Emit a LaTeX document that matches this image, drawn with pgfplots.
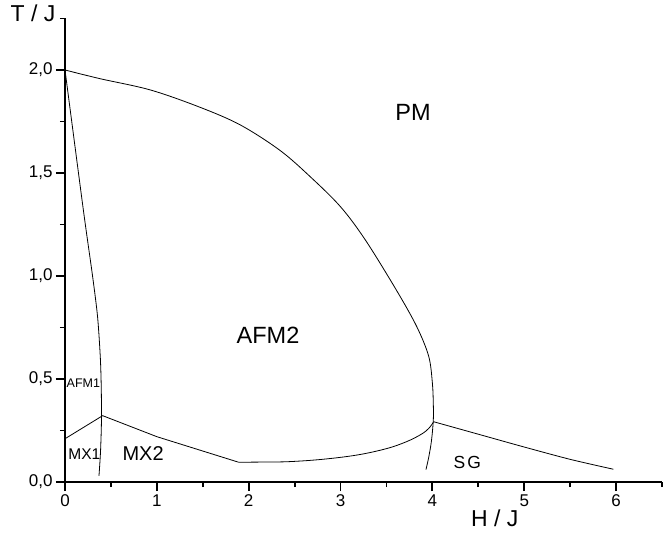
\documentclass[border=0pt]{standalone}
\usepackage{fontspec}
\setmainfont{Liberation Sans}
\usepackage{pgfplots}
\pgfplotsset{compat=1.18}

\begin{document}
\begin{tikzpicture}
\begin{axis}[
    at={(0,0)}, anchor=south west,
    scale only axis,
    width=597bp, height=463.5bp,
    xmin=0, xmax=6.5, ymin=0, ymax=2.25,
    axis lines=left,
    axis line style={-, line width=2bp},
    tick align=outside,
    major tick length=9bp, minor tick length=5bp,
    major tick style={black, line width=1.8bp},
    minor tick style={black, line width=1.8bp},
    xtick={0,1,2,3,4,5,6},
    minor xtick={0.5,1.5,2.5,3.5,4.5,5.5,6.5},
    ytick={0,0.5,1,1.5,2},
    minor ytick={0.25,0.75,1.25,1.75,2.25},
    tick label style={font=\fontsize{17bp}{19bp}\selectfont},
    /pgf/number format/assume math mode=true,
    yticklabel style={/pgf/number format/.cd, fixed, fixed zerofill, precision=1, use comma},
    clip=false,
    every axis plot/.append style={black, no markers, line width=0.8bp},
]
% PM / AFM2 boundary
\addplot[black, smooth, tension=0.55] coordinates {
    (0,2.0) (0.38,1.958) (0.93,1.903) (1.47,1.819) (1.91,1.733)
    (2.34,1.61) (2.67,1.482) (3.0,1.336) (3.27,1.175) (3.61,0.93)
    (3.83,0.754) (3.96,0.61) (4.00,0.48) (4.01,0.38) (4.01,0.30)
    (3.99,0.20) (3.96,0.12) (3.93,0.06)
};
% AFM1 boundary
\addplot[black, smooth, tension=0.5] coordinates {
    (0,2.0) (0.2,1.32) (0.3,1.0) (0.355,0.8) (0.385,0.6)
    (0.395,0.45) (0.397,0.30) (0.387,0.15) (0.37,0.03)
};
% MX1 / MX2
\addplot[black] coordinates {
    (0,0.21) (0.41,0.322) (1.0,0.22) (1.89,0.096)
};
\addplot[black, smooth, tension=0.6] coordinates {
    (1.89,0.096) (2.2,0.097) (2.45,0.099) (2.8,0.11) (3.18,0.131)
    (3.5,0.162) (3.72,0.196) (3.88,0.232) (3.96,0.26) (4.01,0.29)
};
% SG
\addplot[black, smooth, tension=0.5] coordinates {
    (4.01,0.293) (4.5,0.232) (4.99,0.171) (5.5,0.11) (5.97,0.062)
};

\node[font=\fontsize{23.5bp}{26bp}\selectfont] at (axis cs:3.79,1.795) {PM};
\node[font=\fontsize{23.5bp}{26bp}\selectfont] at (axis cs:2.21,0.714) {AFM2};
\node[font=\fontsize{20bp}{22bp}\selectfont] at (axis cs:0.85,0.136) {MX2};
\node[font=\fontsize{15.5bp}{18bp}\selectfont] at (axis cs:0.21,0.136) {MX1};
\node[font=\fontsize{12.5bp}{14bp}\selectfont] at (axis cs:0.2,0.48) {AFM1};
\node[font=\fontsize{17.5bp}{20bp}\selectfont] at (axis cs:4.38,0.096) {S\kern2bp G};
\node[font=\fontsize{23bp}{26bp}\selectfont] at (axis cs:4.68,0) [yshift=-36bp] {H / J};
\node[font=\fontsize{23bp}{26bp}\selectfont] at (axis cs:-0.348,2.277) {T / J};
\end{axis}
\pgfresetboundingbox
\useasboundingbox (-65bp,-51bp) rectangle (598bp,482bp);
\end{tikzpicture}
\end{document}
